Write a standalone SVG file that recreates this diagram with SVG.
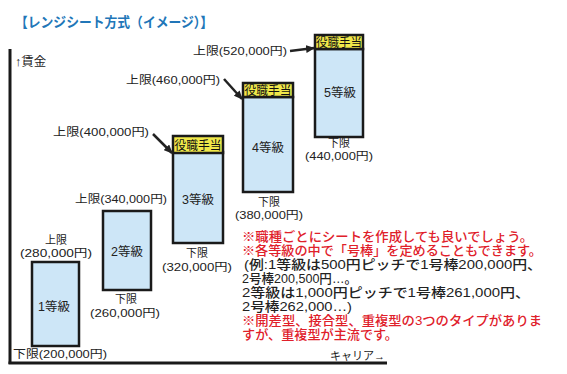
<svg xmlns="http://www.w3.org/2000/svg" width="567" height="374" viewBox="0 0 567 374">
<style>
text{font-family:"Liberation Sans","Noto Sans CJK JP",sans-serif;fill:#222;}
.t{font-size:11.5px;}
.s{font-size:11px;}
.c{text-anchor:middle;}
.g{font-size:12.5px;text-anchor:middle;}
.h{font-size:12px;text-anchor:middle;fill:#111;}
.box{fill:#cde6f7;stroke:#1a1a1a;stroke-width:2.5;}
.hdr{fill:#f0e84a;stroke:#1a1a1a;stroke-width:2.5;}
.ax{stroke:#1a1a1a;stroke-width:3;fill:none;}
.ar{stroke:#222;stroke-width:2.5;fill:none;marker-end:url(#ah);}
.n{font-size:13px;font-weight:500;}
.r{fill:#e0202a;}
.title{font-size:14px;font-weight:bold;fill:#2176b8;}
</style>
<defs>
<marker id="ah" markerUnits="userSpaceOnUse" markerWidth="9" markerHeight="8" refX="8" refY="4" orient="auto">
<path d="M0,0 L9,4 L0,8 Z" fill="#222"/>
</marker>
</defs>
<rect width="567" height="374" fill="#fff"/>
<text class="title" x="15" y="27" textLength="198" lengthAdjust="spacingAndGlyphs">【レンジシート方式（イメージ）】</text>
<g id="axes">
<line class="ax" x1="10" y1="49" x2="10" y2="364"/>
<line class="ax" x1="8.5" y1="363" x2="387" y2="363"/>
<text x="15" y="66" font-size="12.5">↑賃金</text>
<text x="330" y="360" font-size="11.5" textLength="55" lengthAdjust="spacingAndGlyphs">キャリア→</text>
</g>
<g id="grade1">
<rect class="box" x="32" y="262" width="47" height="84"/>
<text class="g" x="54" y="311">1等級</text>
<text class="s c" x="56" y="244">上限</text>
<text class="s c" x="56" y="257" textLength="72" lengthAdjust="spacingAndGlyphs">(280,000円)</text>
<text class="t" x="13" y="358" textLength="94" lengthAdjust="spacingAndGlyphs">下限(200,000円)</text>
</g>
<g id="grade2">
<rect class="box" x="103" y="211" width="48" height="79"/>
<text class="g" x="127" y="256">2等級</text>
<text class="t" x="75" y="203" textLength="92" lengthAdjust="spacingAndGlyphs">上限(340,000円)</text>
<text class="s c" x="126" y="303">下限</text>
<text class="s c" x="125" y="317" textLength="70" lengthAdjust="spacingAndGlyphs">(260,000円)</text>
</g>
<g id="grade3">
<rect class="box" x="173" y="152" width="50" height="91"/>
<rect class="hdr" x="173" y="136" width="50" height="17"/>
<text class="h" x="198" y="149.5" textLength="47" lengthAdjust="spacingAndGlyphs">役職手当</text>
<text class="g" x="198" y="204">3等級</text>
<text class="t" x="53" y="136" textLength="96" lengthAdjust="spacingAndGlyphs">上限(400,000円)</text>
<text class="s c" x="197" y="257">下限</text>
<text class="s c" x="197" y="271" textLength="70" lengthAdjust="spacingAndGlyphs">(320,000円)</text>
</g>
<g id="grade4">
<rect class="box" x="243" y="97" width="50" height="95"/>
<rect class="hdr" x="243" y="83" width="50" height="14"/>
<text class="h" x="268" y="95" textLength="47" lengthAdjust="spacingAndGlyphs">役職手当</text>
<text class="g" x="268" y="152">4等級</text>
<text class="t" x="126" y="84" textLength="94" lengthAdjust="spacingAndGlyphs">上限(460,000円)</text>
<text class="s c" x="269" y="206">下限</text>
<text class="s c" x="269" y="219" textLength="68" lengthAdjust="spacingAndGlyphs">(380,000円)</text>
</g>
<g id="grade5">
<rect class="box" x="315" y="49" width="48" height="88"/>
<rect class="hdr" x="315" y="35" width="48" height="14"/>
<text class="h" x="339" y="46.5" textLength="46" lengthAdjust="spacingAndGlyphs">役職手当</text>
<text class="g" x="340" y="97">5等級</text>
<text class="t" x="193" y="55" textLength="94" lengthAdjust="spacingAndGlyphs">上限(520,000円)</text>
<text class="s c" x="339" y="147">下限</text>
<text class="s c" x="339" y="160" textLength="68" lengthAdjust="spacingAndGlyphs">(440,000円)</text>
</g>
<g id="connectors">
<line class="ar" x1="153" y1="134" x2="172" y2="153"/>
<line class="ar" x1="224" y1="79" x2="242" y2="99"/>
<line class="ar" x1="290" y1="51" x2="314" y2="48"/>
</g>
<g id="notes">
<text class="n r" x="242" y="241" textLength="291" lengthAdjust="spacingAndGlyphs">※職種ごとにシートを作成しても良いでしょう。</text>
<text class="n r" x="242" y="255" textLength="300" lengthAdjust="spacingAndGlyphs">※各等級の中で「号棒」を定めることもできます。</text>
<text class="n" x="244" y="269" textLength="298" lengthAdjust="spacingAndGlyphs">(例:1等級は500円ピッチで1号棒200,000円、</text>
<text class="n" x="242" y="283" textLength="115" lengthAdjust="spacingAndGlyphs">2号棒200,500円…。</text>
<text class="n" x="242" y="297" textLength="288" lengthAdjust="spacingAndGlyphs">2等級は1,000円ピッチで1号棒261,000円、</text>
<text class="n" x="242" y="311" textLength="110" lengthAdjust="spacingAndGlyphs">2号棒262,000…)</text>
<text class="n r" x="242" y="325" textLength="300" lengthAdjust="spacingAndGlyphs">※開差型、接合型、重複型の3つのタイプがありま</text>
<text class="n r" x="242" y="339" textLength="156" lengthAdjust="spacingAndGlyphs">すが、重複型が主流です。</text>
</g>
</svg>
